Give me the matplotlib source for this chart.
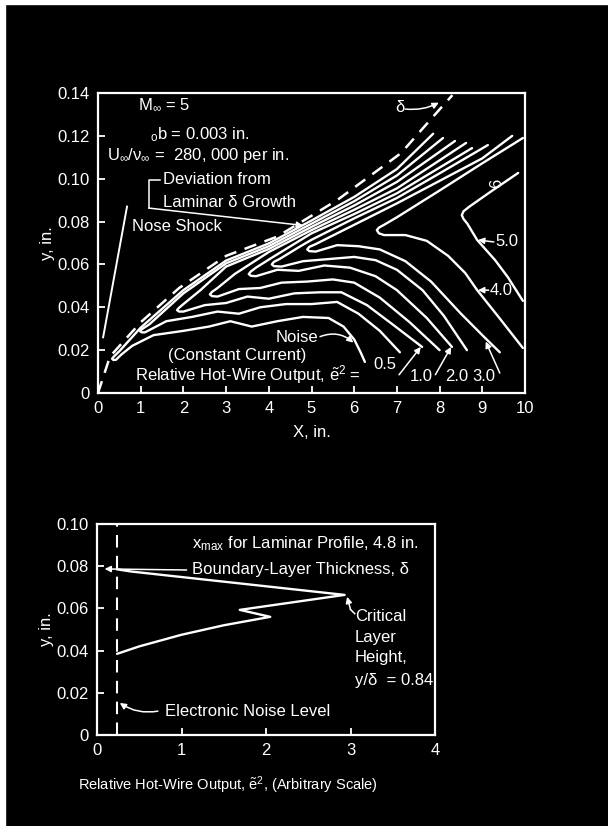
import matplotlib
matplotlib.use("Agg")
import matplotlib.pyplot as plt
from matplotlib.patches import Rectangle

FONT = ["Liberation Sans", "DejaVu Sans"]
plt.rcParams["font.family"] = FONT
plt.rcParams["mathtext.fontset"] = "custom"
plt.rcParams["mathtext.rm"] = "Liberation Sans"
plt.rcParams["mathtext.it"] = "Liberation Sans"
plt.rcParams["mathtext.bf"] = "Liberation Sans"

FG = "white"
BG = "black"

# ---------------- upper panel data: boundary-layer edge, shock, contours ----------------
delta_x = [0.0, 0.28, 1.0, 1.9, 3.0, 4.2, 5.6, 7.1, 7.85, 8.3]
delta_y = [0.0, 0.017, 0.033, 0.049, 0.064, 0.073, 0.090, 0.112, 0.129, 0.139]

shock_x = [0.12, 0.68]
shock_y = [0.026, 0.087]

# e^2 contour lines, each traced from the upper arm end, round the nose, to the lower arm end
c1_x = [7.85, 7.0, 6.0, 5.0, 4.0, 3.0, 2.0, 1.0, 0.5, 0.37, 0.33, 0.36, 0.42, 0.55, 0.8, 1.3, 2.0, 2.6, 3.1, 3.6, 4.2, 4.8, 5.4, 5.75, 6.0, 6.15, 6.25]
c1_y = [0.121, 0.1045, 0.0915, 0.0805, 0.0698, 0.0618, 0.048, 0.0305, 0.0195, 0.0170, 0.0160, 0.0154, 0.0155, 0.018, 0.022, 0.027, 0.029, 0.031, 0.0335, 0.031, 0.0335, 0.0355, 0.035, 0.031, 0.025, 0.019, 0.0145]

c2_x = [8.08, 7.0, 6.0, 5.0, 4.0, 3.0, 2.0, 1.2, 1.03, 0.98, 1.02, 1.1, 1.6, 2.2, 2.8, 3.3, 3.8, 4.4, 5.0, 5.6, 6.1, 6.6, 7.07]
c2_y = [0.119, 0.1015, 0.0895, 0.079, 0.0685, 0.0605, 0.0465, 0.032, 0.0298, 0.0290, 0.0283, 0.0283, 0.0335, 0.0355, 0.038, 0.037, 0.040, 0.0415, 0.0415, 0.0425, 0.037, 0.029, 0.019]

c3_x = [8.36, 7.0, 6.0, 5.0, 4.0, 3.0, 2.4, 2.0, 1.9, 1.85, 1.9, 2.0, 2.5, 3.0, 3.5, 4.0, 4.6, 5.2, 5.7, 6.3, 6.9, 7.59]
c3_y = [0.1176, 0.0985, 0.0875, 0.0775, 0.0672, 0.059, 0.048, 0.0415, 0.0398, 0.0387, 0.0380, 0.0380, 0.041, 0.042, 0.045, 0.044, 0.0465, 0.047, 0.047, 0.041, 0.032, 0.0215]

c4_x = [8.62, 7.0, 6.0, 5.0, 4.0, 3.2, 2.8, 2.67, 2.62, 2.67, 2.8, 3.3, 3.8, 4.3, 4.9, 5.5, 6.0, 6.6, 7.3, 8.0]
c4_y = [0.1167, 0.0955, 0.0855, 0.076, 0.0658, 0.0555, 0.049, 0.0472, 0.0460, 0.0452, 0.0450, 0.0485, 0.049, 0.0515, 0.052, 0.053, 0.0515, 0.0445, 0.033, 0.020]

c5_x = [8.76, 7.0, 6.0, 5.0, 4.1, 3.7, 3.58, 3.53, 3.58, 3.7, 4.2, 4.7, 5.3, 5.9, 6.5, 7.0, 7.7, 8.29]
c5_y = [0.1143, 0.0932, 0.0835, 0.0745, 0.0635, 0.0585, 0.0567, 0.0555, 0.0547, 0.0545, 0.0575, 0.057, 0.0595, 0.0585, 0.0545, 0.048, 0.035, 0.0215]

c6_x = [9.13, 8.0, 7.0, 6.0, 5.0, 4.7, 4.25, 4.12, 4.07, 4.12, 4.3, 4.8, 5.4, 6.0, 6.5, 7.0, 7.6, 8.1, 8.64]
c6_y = [0.1157, 0.1025, 0.091, 0.0815, 0.0715, 0.068, 0.0625, 0.0612, 0.0600, 0.0592, 0.0590, 0.0615, 0.0625, 0.0635, 0.062, 0.0575, 0.048, 0.036, 0.020]

c7_x = [9.70, 9.0, 8.0, 7.0, 6.0, 5.5, 5.1, 4.95, 4.9, 4.95, 5.1, 5.6, 6.1, 6.6, 7.2, 7.8, 8.5, 9.05, 9.41]
c7_y = [0.120, 0.1095, 0.099, 0.0885, 0.0785, 0.0735, 0.0695, 0.0682, 0.0670, 0.0662, 0.0660, 0.069, 0.0685, 0.067, 0.0615, 0.052, 0.037, 0.026, 0.019]

c8_x = [9.95, 9.0, 8.0, 7.0, 6.7, 6.58, 6.53, 6.58, 6.7, 7.2, 7.7, 8.2, 8.6, 8.88, 9.4, 9.95]
c8_y = [0.119, 0.1072, 0.0945, 0.082, 0.0785, 0.0772, 0.0760, 0.0745, 0.0737, 0.0737, 0.071, 0.064, 0.056, 0.048, 0.035, 0.021]

c9_x = [9.84, 9.2, 8.7, 8.56, 8.52, 8.56, 8.65, 8.88, 9.3, 9.6, 9.95]
c9_y = [0.1027, 0.094, 0.087, 0.0848, 0.0830, 0.0812, 0.0790, 0.0714, 0.062, 0.054, 0.043]

contours_x = [c1_x, c2_x, c3_x, c4_x, c5_x, c6_x, c7_x, c8_x, c9_x]
contours_y = [c1_y, c2_y, c3_y, c4_y, c5_y, c6_y, c7_y, c8_y, c9_y]

top_xticks = [0, 1, 2, 3, 4, 5, 6, 7, 8, 9, 10]
top_yticks = [0, 0.02, 0.04, 0.06, 0.08, 0.10, 0.12, 0.14]
top_yticklabels = ["0", "0.02", "0.04", "0.06", "0.08", "0.10", "0.12", "0.14"]

# ---------------- lower panel data: profile at x_max ----------------
prof_x = [0.24, 0.40, 2.93, 1.69, 2.05, 1.50, 1.00, 0.50, 0.24]
prof_y = [0.0785, 0.0775, 0.0664, 0.0593, 0.0560, 0.0520, 0.0475, 0.0420, 0.0385]
noise_level = 0.237

bot_xticks = [0, 1, 2, 3, 4]
bot_yticks = [0, 0.02, 0.04, 0.06, 0.08, 0.10]
bot_yticklabels = ["0", "0.02", "0.04", "0.06", "0.08", "0.10"]

FS = 12

fig = plt.figure(figsize=(6.08, 8.26), dpi=100, facecolor=BG)
# scanned page edge
fig.patches.append(Rectangle((0, 1 - 4 / 826), 1, 4 / 826, transform=fig.transFigure, color=FG, zorder=0))
fig.patches.append(Rectangle((0, 0), 5 / 608, 1, transform=fig.transFigure, color=FG, zorder=0))


def style_axes(ax):
    ax.set_facecolor(BG)
    for s in ax.spines.values():
        s.set_color(FG)
        s.set_linewidth(1.6)
    ax.tick_params(direction="in", colors=FG, length=5, width=1.3, labelsize=FS, pad=6)


arrow = dict(arrowstyle="-|>", color=FG, lw=1.1, mutation_scale=9, shrinkA=0, shrinkB=0)

# ---------------- upper panel ----------------
ax1 = fig.add_axes([98 / 608, 1 - 393 / 826, 427 / 608, 300 / 826])
style_axes(ax1)
ax1.set_xlim(0, 10)
ax1.set_ylim(0, 0.14)
ax1.set_xticks(top_xticks)
ax1.set_yticks(top_yticks)
ax1.set_yticklabels(top_yticklabels)
ax1.set_xlabel("X, in.", color=FG, fontsize=FS, labelpad=6)
ax1.set_ylabel("y, in.", color=FG, fontsize=FS, labelpad=2)

ax1.plot(delta_x, delta_y, color=FG, lw=1.8, ls=(0, (5, 3.5)))
ax1.plot(shock_x, shock_y, color=FG, lw=1.4)
for cx, cy in zip(contours_x, contours_y):
    ax1.plot(cx, cy, color=FG, lw=1.7, solid_joinstyle="round", solid_capstyle="round")

tk = dict(color=FG, fontsize=FS, va="center")
ax1.text(0.94, 0.1344, r"$\mathregular{M_{\infty}}$ = 5", **tk)
ax1.text(1.22, 0.1204, r"$\mathregular{_{o}b}$ = 0.003 in.", **tk)
ax1.text(0.21, 0.111, r"$\mathregular{U_{\infty}/\nu_{\infty}}$ =  280, 000 per in.", **tk)
ax1.text(1.52, 0.0994, "Deviation from", **tk)
ax1.text(1.52, 0.0891, "Laminar δ Growth", **tk)
ax1.plot([1.45, 1.19, 1.19], [0.0994, 0.0994, 0.0863], color=FG, lw=1.1)
ax1.annotate("", xy=(4.80, 0.0782), xytext=(1.19, 0.0863), arrowprops=arrow)
ax1.text(0.80, 0.0775, "Nose Shock", **tk)
ax1.text(6.96, 0.133, "δ", **tk)
ax1.annotate("", xy=(7.98, 0.1355), xytext=(7.2, 0.1325),
             arrowprops=dict(arrow, connectionstyle="arc3,rad=0.15"))
ax1.text(5.15, 0.0261, "Noise", ha="right", **tk)
ax1.annotate("", xy=(5.98, 0.0235), xytext=(5.2, 0.0263),
             arrowprops=dict(arrow, connectionstyle="arc3,rad=-0.3"))
ax1.text(1.64, 0.0177, "(Constant Current)", **tk)
ax1.text(0.87, 0.0084, r"Relative Hot-Wire Output, $\mathregular{\tilde{e}^{2}}$ =", **tk)
ax1.text(6.45, 0.0135, "0.5", **tk)
ax1.text(7.31, 0.0075, "1.0", **tk)
ax1.text(8.13, 0.0075, "2.0", **tk)
ax1.text(8.76, 0.0075, "3.0", **tk)
ax1.text(9.18, 0.048, "4.0", **tk)
ax1.text(9.30, 0.0705, "5.0", **tk)
ax1.text(9.34, 0.098, "6", rotation=90, ha="center", **tk)
ax1.annotate("", xy=(7.56, 0.0215), xytext=(7.05, 0.0085), arrowprops=arrow)
ax1.annotate("", xy=(8.27, 0.0215), xytext=(7.9, 0.0085), arrowprops=arrow)
ax1.annotate("", xy=(9.08, 0.0240), xytext=(9.41, 0.0093), arrowprops=arrow)
ax1.annotate("", xy=(8.90, 0.048), xytext=(9.15, 0.048), arrowprops=arrow)
ax1.annotate("", xy=(8.90, 0.0714), xytext=(9.27, 0.0705), arrowprops=arrow)

# ---------------- lower panel ----------------
ax2 = fig.add_axes([97 / 608, 1 - 735 / 826, 338 / 608, 211 / 826])
style_axes(ax2)
ax2.set_xlim(0, 4)
ax2.set_ylim(0, 0.10)
ax2.set_xticks(bot_xticks)
ax2.set_yticks(bot_yticks)
ax2.set_yticklabels(bot_yticklabels)
ax2.set_ylabel("y, in.", color=FG, fontsize=FS, labelpad=2)

ax2.axvline(noise_level, color=FG, lw=1.5, ls=(0, (6, 4)))
ax2.plot(prof_x, prof_y, color=FG, lw=1.7)

ax2.text(1.12, 0.0905, r"$\mathregular{x_{max}}$ for Laminar Profile, 4.8 in.", **tk)
ax2.text(1.12, 0.0782, "Boundary-Layer Thickness, δ", **tk)
ax2.annotate("", xy=(0.09, 0.0787), xytext=(1.06, 0.0782), arrowprops=arrow)
ax2.text(3.05, 0.0560, "Critical", **tk)
ax2.text(3.05, 0.0460, "Layer", **tk)
ax2.text(3.05, 0.0365, "Height,", **tk)
ax2.text(3.05, 0.0260, "y/δ  = 0.84", **tk)
ax2.plot([3.05, 3.0], [0.0575, 0.0595], color=FG, lw=1.1)
ax2.annotate("", xy=(2.96, 0.0655), xytext=(3.0, 0.0595), arrowprops=arrow)
ax2.text(0.80, 0.0113, "Electronic Noise Level", **tk)
ax2.annotate("", xy=(0.27, 0.0152), xytext=(0.72, 0.0113),
             arrowprops=dict(arrow, connectionstyle="arc3,rad=-0.2"))

fig.text(78 / 608, 1 - 785 / 826, r"Relative Hot-Wire Output, $\mathregular{\tilde{e}^{2}}$, (Arbitrary Scale)",
         color=FG, fontsize=10.5, va="center")

fig.savefig("out.png", dpi=100, facecolor=BG)
